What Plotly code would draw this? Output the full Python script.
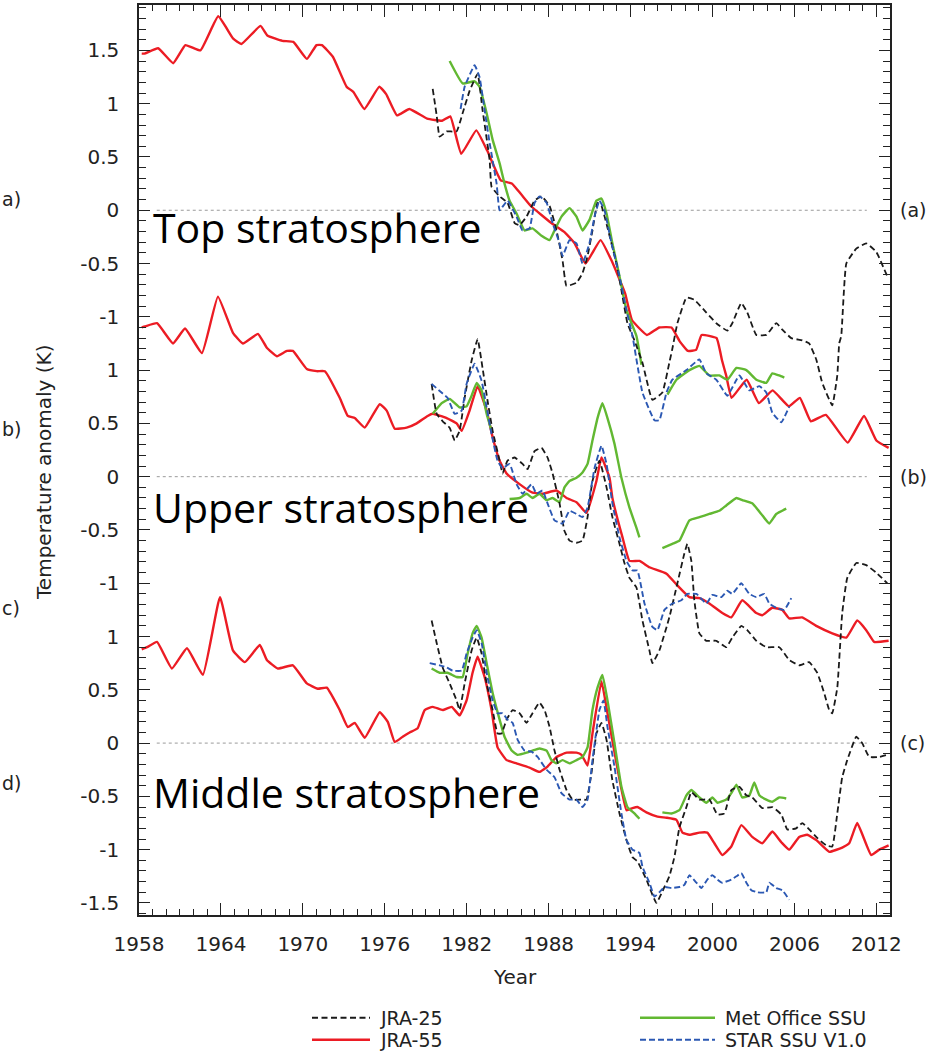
import plotly.graph_objects as go

# ---------------- data (anomalies in K, per stratospheric layer) ----------------
# (a) top stratosphere
a_jra55_yr = [1958.2, 1958.4, 1959.4, 1960.5, 1961.4, 1962.5, 1963.8, 1964.9, 1965.5, 1966.9,
              1967.4, 1968.5, 1969.3, 1970.3, 1971.0, 1971.4, 1972.2, 1973.2, 1973.7, 1974.5,
              1975.6, 1976.1, 1976.9, 1977.8, 1979.1, 1980.2, 1980.8, 1981.6, 1982.7, 1983.5,
              1984.5, 1985.3, 1986.7, 1988.2, 1989.2, 1989.9, 1990.7, 1991.8, 1992.6, 1993.6,
              1994.1, 1995.2, 1996.1, 1997.0, 1997.6, 1998.2, 1998.8, 1999.2, 2000.3, 2000.7,
              2001.0, 2001.4, 2002.5, 2003.4, 2004.4, 2005.6, 2006.4, 2007.2, 2008.3, 2009.9,
              2011.1, 2012.0, 2012.9]
a_jra55_k = [1.47, 1.47, 1.52, 1.38, 1.55, 1.50, 1.82, 1.61, 1.56, 1.73,
             1.64, 1.59, 1.58, 1.42, 1.55, 1.55, 1.44, 1.16, 1.11, 0.95,
             1.16, 1.09, 0.89, 0.95, 0.86, 0.84, 0.88, 0.53, 0.75, 0.56,
             0.28, 0.25, 0.04, -0.12, -0.21, -0.31, -0.50, -0.28, -0.47, -0.78,
             -1.03, -1.17, -1.10, -1.10, -1.23, -1.32, -1.31, -1.17, -1.20, -1.41,
             -1.55, -1.76, -1.59, -1.81, -1.69, -1.84, -1.76, -1.98, -1.92, -2.18,
             -1.93, -2.16, -2.23]

a_jra25_yr = [1979.51, 1979.80, 1980.02, 1980.53, 1981.26, 1981.70, 1982.21, 1982.80, 1983.16, 1983.68,
              1983.82, 1984.41, 1984.99, 1985.51, 1985.87, 1986.38, 1986.97, 1987.48, 1988.07, 1988.58,
              1989.02, 1989.31, 1990.04, 1990.48, 1990.85, 1991.21, 1991.58, 1991.87, 1992.46, 1992.97,
              1993.33, 1993.77, 1994.28, 1994.87, 1995.60, 1996.33, 1996.84, 1997.06, 1997.43, 1998.09,
              1998.67, 1999.55, 2000.28, 2001.09, 2001.45, 2002.11, 2002.55, 2003.21, 2003.94, 2004.67,
              2005.11, 2005.77, 2006.57, 2007.08, 2007.60, 2008.04, 2008.77, 2009.14, 2009.28, 2009.43,
              2009.80, 2010.53, 2011.26, 2011.99, 2012.80]
a_jra25_k = [1.14, 0.89, 0.69, 0.74, 0.74, 0.91, 1.12, 1.28, 0.94, 0.47,
             0.22, 0.13, 0.07, -0.12, -0.14, -0.06, 0.09, 0.13, 0.04, -0.19,
             -0.47, -0.71, -0.68, -0.59, -0.43, -0.19, 0.07, 0.04, -0.24, -0.50,
             -0.75, -1.06, -1.22, -1.43, -1.78, -1.71, -1.43, -1.30, -1.06, -0.82,
             -0.84, -0.96, -1.06, -1.13, -1.06, -0.87, -0.96, -1.17, -1.17, -1.06,
             -1.12, -1.20, -1.22, -1.25, -1.40, -1.62, -1.83, -1.55, -1.25, -1.18,
             -0.50, -0.36, -0.31, -0.39, -0.62]

a_star_yr = [1981.55, 1981.85, 1982.58, 1982.94, 1983.31, 1983.68, 1984.19, 1984.41, 1984.99, 1985.65,
             1986.09, 1986.60, 1986.97, 1987.33, 1987.85, 1988.29, 1988.80, 1989.02, 1989.53, 1990.04,
             1990.48, 1990.99, 1991.36, 1991.72, 1992.09, 1992.60, 1993.19, 1993.70, 1994.14, 1994.87,
             1995.75, 1996.11, 1996.63, 1997.06, 1998.09, 1999.04, 1999.55, 2000.28, 2001.09, 2001.97,
             2002.70, 2003.43, 2003.94, 2004.38, 2005.04, 2005.63]
a_star_k = [0.95, 1.16, 1.36, 1.25, 0.94, 0.63, 0.25, 0.00, 0.09, -0.06,
            -0.19, -0.17, 0.07, 0.13, 0.07, -0.12, -0.31, -0.43, -0.28, -0.31,
            -0.50, -0.31, -0.06, 0.09, 0.00, -0.31, -0.62, -0.94, -1.18, -1.71,
            -1.97, -1.97, -1.71, -1.59, -1.50, -1.40, -1.53, -1.59, -1.74, -1.55,
            -1.69, -1.65, -1.71, -1.90, -1.99, -1.84]

a_metoffice_yr = [1980.75, 1981.70, 1982.58, 1982.94, 1983.46, 1983.90, 1984.41, 1984.77, 1985.14, 1985.65,
                  1986.24, 1986.82, 1987.48, 1988.07, 1988.43, 1988.94, 1989.53, 1990.04, 1990.48, 1990.99,
                  1991.50, 1991.87, 1992.24, 1992.67, 1993.19, 1993.70, 1994.43, 1994.80, None,
                  1996.70, 1997.36, 1998.31, 1999.04, 1999.77, 2000.50, 2001.09, 2001.75, 2002.48, 2003.21,
                  2003.94, 2004.38, 2004.89, 2005.26]
a_metoffice_k = [1.40, 1.19, 1.21, 1.16, 0.91, 0.66, 0.44, 0.25, 0.09, -0.03,
                 -0.19, -0.17, -0.24, -0.28, -0.19, -0.06, 0.02, -0.06, -0.19, -0.09,
                 0.09, 0.11, -0.03, -0.31, -0.62, -0.94, -1.18, -1.45, None,
                 -1.73, -1.59, -1.50, -1.46, -1.55, -1.55, -1.59, -1.48, -1.50, -1.59,
                 -1.62, -1.53, -1.55, -1.57]

# (b) upper stratosphere
b_jra55_yr = [1958.2, 1958.44, 1959.32, 1960.49, 1961.37, 1962.61, 1963.78, 1964.88, 1965.61, 1966.71,
              1967.36, 1968.10, 1968.83, 1969.27, 1970.29, 1971.02, 1971.61, 1972.70, 1973.29, 1973.80,
              1974.53, 1975.63, 1976.14, 1976.73, 1977.60, 1978.34, 1979.14, 1979.51, 1980.53, 1981.26,
              1981.63, 1982.21, 1982.80, 1983.46, 1983.90, 1984.41, 1984.92, 1985.87, 1986.82, 1987.55,
              1988.58, 1989.31, 1990.04, 1990.77, 1991.50, 1991.87, 1992.46, 1992.67, 1993.41, 1993.92,
              1994.65, 1995.38, 1996.63, 1997.43, 1998.31, 1999.04, 1999.77, 2000.72, 2001.38, 2002.18,
              2003.21, 2003.65, 2004.38, 2005.11, 2005.62, 2006.57, 2007.60, 2008.77, 2009.80, 2010.60,
              2011.26, 2011.84, 2012.90]
b_jra55_k = [1.40, 1.41, 1.44, 1.25, 1.39, 1.16, 1.69, 1.35, 1.25, 1.34,
             1.21, 1.13, 1.18, 1.18, 1.01, 0.99, 0.99, 0.74, 0.57, 0.55,
             0.46, 0.68, 0.62, 0.45, 0.46, 0.50, 0.57, 0.59, 0.55, 0.50,
             0.43, 0.62, 0.85, 0.62, 0.37, 0.15, 0.03, -0.07, -0.15, -0.16,
             -0.13, -0.20, -0.24, -0.34, -0.04, 0.18, -0.01, -0.20, -0.57, -0.79,
             -0.79, -0.85, -0.91, -1.02, -1.13, -1.14, -1.19, -1.28, -1.32, -1.16,
             -1.28, -1.30, -1.23, -1.25, -1.33, -1.32, -1.40, -1.47, -1.51, -1.35,
             -1.44, -1.55, -1.54]

b_jra25_yr = [1979.43, 1979.80, 1980.24, 1980.75, 1981.12, 1981.48, 1981.85, 1982.36, 1982.80, 1983.16,
              1983.53, 1983.90, 1984.41, 1984.63, 1984.99, 1985.51, 1986.09, 1986.46, 1986.97, 1987.48,
              1987.92, 1988.29, 1988.80, 1989.16, 1989.53, 1990.04, 1990.48, 1990.85, 1991.21, 1991.72,
              1992.24, 1992.67, 1993.19, 1993.55, 1993.92, 1994.43, 1994.87, 1995.38, 1995.60, 1996.11,
              1996.84, 1997.43, 1997.94, 1998.16, 1998.45, 1998.67, 1999.04, 1999.55, 2000.28, 2001.01,
              2001.45, 2002.11, 2002.55, 2003.21, 2003.94, 2004.89, 2005.62, 2006.35, 2007.08, 2007.67,
              2008.18, 2008.55, 2008.77, 2009.14, 2009.50, 2009.87, 2010.53, 2011.26, 2011.99, 2012.80]
b_jra25_k = [0.87, 0.59, 0.52, 0.46, 0.34, 0.43, 0.74, 1.09, 1.29, 1.02,
             0.71, 0.43, 0.15, 0.03, 0.15, 0.18, 0.12, 0.07, 0.24, 0.27,
             0.18, 0.03, -0.25, -0.51, -0.60, -0.62, -0.60, -0.38, -0.04, 0.15,
             -0.10, -0.38, -0.63, -0.81, -0.95, -1.04, -1.35, -1.63, -1.75, -1.63,
             -1.32, -1.00, -0.72, -0.63, -0.79, -1.16, -1.47, -1.54, -1.54, -1.60,
             -1.51, -1.40, -1.44, -1.54, -1.60, -1.60, -1.72, -1.77, -1.74, -1.84,
             -2.03, -2.19, -2.22, -1.98, -1.28, -0.95, -0.81, -0.83, -0.90, -1.00]

b_star_yr = [1979.43, 1980.24, 1980.60, 1981.12, 1981.63, 1981.99, 1982.58, 1983.09, 1983.46, 1983.82,
             1984.26, 1984.63, 1985.14, 1985.65, 1986.09, 1986.75, 1987.11, 1987.55, 1987.92, 1988.43,
             1989.02, 1989.53, 1990.04, 1990.48, 1990.85, 1991.36, 1991.87, 1992.24, 1992.67, 1993.19,
             1993.70, 1994.14, 1994.50, 1995.02, 1995.60, 1995.97, 1996.48, 1997.06, 1997.72, 1998.16,
             1998.82, 1999.55, 1999.99, 2000.65, 2001.09, 2001.45, 2002.11, 2002.70, 2003.21, 2003.79,
             2004.16, 2004.67, 2005.26, 2005.77]
b_star_k = [0.87, 0.78, 0.74, 0.59, 0.62, 0.87, 1.06, 0.90, 0.65, 0.40,
            0.15, 0.08, 0.12, -0.07, -0.16, -0.07, -0.16, -0.13, -0.25, -0.41,
            -0.44, -0.32, -0.35, -0.38, -0.29, 0.08, 0.29, 0.12, -0.25, -0.57,
            -0.79, -0.88, -0.88, -1.19, -1.41, -1.44, -1.25, -1.19, -1.16, -1.10,
            -1.10, -1.19, -1.11, -1.13, -1.07, -1.10, -1.00, -1.10, -1.13, -1.10,
            -1.19, -1.23, -1.25, -1.14]

b_metoffice_yr = [1979.51, 1980.17, 1980.75, 1981.48, 1981.99, 1982.36, 1982.73, 1983.09, 1983.46, 1983.82, None,
                  1985.14, 1985.87, 1986.38, 1986.82, 1987.33, 1987.85, 1988.29, 1988.80, 1989.16, 1989.53,
                  1990.04, 1990.48, 1990.85, 1991.21, 1991.58, 1991.94, 1992.31, 1992.82, 1993.33, 1993.92,
                  1994.43, 1994.65, None,
                  1996.33, 1997.06, 1997.58, 1998.31, 1999.04, 1999.77, 2000.50, 2001.01, 2001.75, 2002.18,
                  2002.91, 2003.57, 2004.16, 2004.67, 2005.40]
b_metoffice_k = [0.59, 0.69, 0.73, 0.65, 0.66, 0.76, 0.88, 0.81, 0.59, 0.43, None,
                 -0.21, -0.20, -0.16, -0.20, -0.16, -0.22, -0.20, -0.24, -0.10, -0.04,
                 -0.01, 0.04, 0.12, 0.34, 0.55, 0.69, 0.55, 0.31, -0.01, -0.29,
                 -0.48, -0.57, None,
                 -0.67, -0.63, -0.60, -0.41, -0.38, -0.35, -0.32, -0.27, -0.20, -0.22,
                 -0.25, -0.35, -0.44, -0.35, -0.30]

# (c) middle stratosphere
c_jra55_yr = [1958.2, 1958.59, 1959.32, 1960.41, 1961.51, 1962.68, 1963.93, 1964.88, 1965.75, 1966.85,
              1967.36, 1968.17, 1969.27, 1970.29, 1971.09, 1971.75, 1972.70, 1973.29, 1973.80, 1974.53,
              1975.63, 1976.22, 1976.73, 1977.31, 1977.82, 1978.41, 1978.92, 1979.51, 1980.24, 1980.90,
              1981.48, 1981.99, 1982.43, 1982.80, 1983.31, 1983.82, 1984.26, 1984.92, 1985.65, 1986.60,
              1987.33, 1987.92, 1988.58, 1989.31, 1990.04, 1990.41, 1990.85, 1991.21, 1991.87, 1992.31,
              1992.97, 1993.70, 1994.14, 1994.50, 1995.16, 1995.97, 1996.63, 1997.36, 1997.80, 1998.31,
              1999.04, 1999.62, 2000.14, 2000.72, 2001.38, 2002.11, 2002.91, 2003.65, 2004.38, 2005.04,
              2005.62, 2006.35, 2006.94, 2007.60, 2008.55, 2009.50, 2010.01, 2010.60, 2011.62, 2012.21,
              2012.90]
c_jra55_k = [0.88, 0.90, 0.95, 0.70, 0.89, 0.64, 1.37, 0.87, 0.76, 0.92,
             0.78, 0.70, 0.73, 0.56, 0.51, 0.52, 0.31, 0.15, 0.19, 0.05,
             0.29, 0.20, 0.01, 0.06, 0.10, 0.14, 0.31, 0.34, 0.31, 0.34,
             0.26, 0.40, 0.66, 0.81, 0.62, 0.31, -0.04, -0.16, -0.19, -0.23,
             -0.27, -0.22, -0.13, -0.09, -0.09, -0.11, -0.21, 0.09, 0.58, 0.28,
             -0.19, -0.63, -0.61, -0.60, -0.65, -0.69, -0.70, -0.72, -0.84, -0.86,
             -0.84, -0.84, -0.94, -1.05, -0.97, -0.77, -0.88, -0.94, -0.83, -0.93,
             -1.00, -0.88, -0.86, -0.91, -1.02, -0.98, -0.94, -0.75, -1.05, -1.00,
             -0.96]

c_jra25_yr = [1979.43, 1979.80, 1980.24, 1980.75, 1981.26, 1981.48, 1981.85, 1982.36, 1982.73, 1983.09,
              1983.46, 1983.90, 1984.26, 1984.55, 1984.92, 1985.36, 1985.87, 1986.38, 1986.82, 1987.33,
              1987.70, 1988.07, 1988.43, 1988.80, 1989.31, 1989.75, 1990.41, 1990.77, 1991.14, 1991.50,
              1991.87, 1992.24, 1992.67, 1993.19, 1993.70, 1994.14, 1994.50, 1995.16, 1995.89, 1996.48,
              1996.84, 1997.21, 1997.58, 1998.09, 1998.45, 1999.04, 1999.77, 2000.36, 2000.87, 2001.38,
              2001.97, 2002.48, 2002.91, 2003.65, 2004.38, 2005.04, 2005.48, 2006.13, 2006.57, 2007.08,
              2007.67, 2008.33, 2008.77, 2009.14, 2009.50, 2009.87, 2010.53, 2010.96, 2011.48, 2012.21,
              2012.80]
c_jra25_k = [1.15, 0.94, 0.71, 0.56, 0.40, 0.31, 0.56, 0.87, 0.99, 0.84,
             0.56, 0.31, 0.09, 0.09, 0.22, 0.31, 0.28, 0.19, 0.28, 0.38,
             0.31, 0.15, -0.07, -0.25, -0.44, -0.53, -0.53, -0.53, -0.28, 0.09,
             0.19, 0.03, -0.35, -0.66, -0.91, -1.07, -1.11, -1.28, -1.50, -1.35,
             -1.25, -1.07, -0.79, -0.60, -0.46, -0.53, -0.53, -0.67, -0.66, -0.44,
             -0.41, -0.49, -0.51, -0.61, -0.60, -0.67, -0.81, -0.80, -0.75, -0.81,
             -0.89, -0.96, -0.97, -0.66, -0.32, -0.16, 0.06, 0.00, -0.13, -0.13,
             -0.11]

c_star_yr = [1979.29, 1980.02, 1980.53, 1980.97, 1981.63, 1981.99, 1982.43, 1982.73, 1983.09, 1983.46,
             1983.90, 1984.26, 1984.63, 1984.99, 1985.36, 1985.73, 1986.24, 1986.75, 1987.19, 1987.85,
             1988.43, 1988.94, 1989.53, 1990.04, 1990.48, 1990.85, 1991.21, 1991.72, 1992.02, 1992.31,
             1992.82, 1993.33, 1993.70, 1994.14, 1994.65, 1994.87, 1995.38, 1995.75, 1996.11, 1996.48,
             1996.99, 1997.58, 1997.94, 1998.31, 1998.82, 1999.19, 1999.62, 1999.99, 2000.36, 2000.72,
             2001.38, 2001.75, 2002.11, 2002.48, 2002.84, 2003.28, 2003.94, 2004.16, 2004.67, 2005.11,
             2005.62]
c_star_k = [0.75, 0.73, 0.71, 0.68, 0.68, 0.84, 0.99, 1.06, 0.94, 0.66,
            0.40, 0.28, 0.28, 0.22, 0.19, 0.03, -0.07, -0.08, -0.13, -0.25,
            -0.32, -0.47, -0.53, -0.53, -0.60, -0.53, -0.16, 0.31, 0.40, 0.15,
            -0.22, -0.66, -0.91, -1.00, -1.03, -1.16, -1.31, -1.44, -1.40, -1.35,
            -1.36, -1.35, -1.33, -1.24, -1.31, -1.36, -1.28, -1.24, -1.28, -1.31,
            -1.28, -1.25, -1.22, -1.31, -1.38, -1.40, -1.40, -1.31, -1.36, -1.38,
            -1.47]

c_metoffice_yr = [1979.43, 1980.02, 1980.60, 1981.26, 1981.70, 1982.07, 1982.43, 1982.73, 1983.09, 1983.46,
                  1983.90, 1984.41, 1984.77, 1985.29, 1985.73, 1986.38, 1986.82, 1987.33, 1987.85, 1988.21,
                  1988.58, 1989.02, 1989.53, 1990.04, 1990.48, 1990.85, 1991.21, 1991.58, 1991.94, 1992.31,
                  1992.82, 1993.33, 1993.77, 1994.28, 1994.65, None,
                  1996.33, 1996.99, 1997.58, 1998.09, 1998.45, 1999.04, 1999.55, 1999.99, 2000.36, 2001.01,
                  2001.38, 2001.75, 2002.18, 2002.70, 2003.06, 2003.43, 2003.94, 2004.38, 2004.89, 2005.40]
c_metoffice_k = [0.70, 0.66, 0.66, 0.62, 0.62, 0.84, 1.03, 1.10, 0.99, 0.75,
                 0.47, 0.22, 0.06, -0.07, -0.11, -0.09, -0.07, -0.05, -0.07, -0.16,
                 -0.19, -0.16, -0.19, -0.16, -0.13, -0.04, 0.31, 0.52, 0.64, 0.40,
                 0.00, -0.41, -0.60, -0.66, -0.71, None,
                 -0.65, -0.66, -0.63, -0.49, -0.44, -0.51, -0.56, -0.51, -0.56, -0.53,
                 -0.47, -0.39, -0.51, -0.49, -0.37, -0.49, -0.53, -0.55, -0.51, -0.52]

# labels of the stacked anomaly axis, top to bottom (one per 0.5 K step)
y_tick_labels = ["1.5", "1", "0.5", "0", "-0.5", "-1",
                 "1", "0.5", "0", "-0.5", "-1",
                 "1", "0.5", "0", "-0.5", "-1", "-1.5"]

panel_titles = ["Top stratosphere", "Upper stratosphere", "Middle stratosphere"]
dataset_names = ["JRA-25", "JRA-55", "Met Office SSU", "STAR SSU V1.0"]

# ---------------- figure ----------------
W, H = 933, 1053
M_L, M_R, M_T, M_B = 139, 43, 3, 138
PLOT_W = W - M_L - M_R
PLOT_H = H - M_T - M_B
FONT = "DejaVu Sans"
TITLE_FONT = "Open Sans"
panel_shift = [0.0, -2.5, -5.0]          # vertical offset of each panel on the shared axis
title_drop = [0.158, 0.289, 0.457]       # how far below each zero line the panel name sits


def paper_x(px):
    return (px - M_L) / PLOT_W


def paper_y(py):
    return (H - M_B - py) / PLOT_H


def _fmt(v):
    return ("%g" % v).replace("-", "\u2212")


# map the stacked-axis values to the per-panel labels
y_label_alias = {_fmt(1.5 - 0.5 * i): lab for i, lab in enumerate(y_tick_labels)}

styles = {
    "JRA-25": dict(color="#1a1a1a", width=1.8, dash="6px,3.5px"),
    "JRA-55": dict(color="#ec1c24", width=2.4),
    "Met Office SSU": dict(color="#62b832", width=2.4),
    "STAR SSU V1.0": dict(color="#2b58b3", width=1.9, dash="6px,3px"),
}

panels = [
    {"JRA-55": (a_jra55_yr, a_jra55_k), "Met Office SSU": (a_metoffice_yr, a_metoffice_k),
     "JRA-25": (a_jra25_yr, a_jra25_k), "STAR SSU V1.0": (a_star_yr, a_star_k)},
    {"JRA-55": (b_jra55_yr, b_jra55_k), "Met Office SSU": (b_metoffice_yr, b_metoffice_k),
     "JRA-25": (b_jra25_yr, b_jra25_k), "STAR SSU V1.0": (b_star_yr, b_star_k)},
    {"JRA-55": (c_jra55_yr, c_jra55_k), "Met Office SSU": (c_metoffice_yr, c_metoffice_k),
     "JRA-25": (c_jra25_yr, c_jra25_k), "STAR SSU V1.0": (c_star_yr, c_star_k)},
]

fig = go.Figure()
for p, series in enumerate(panels):
    for name, (yrs, vals) in series.items():
        shifted = [None if v is None else v + panel_shift[p] for v in vals]
        fig.add_trace(go.Scatter(
            x=yrs, y=shifted, mode="lines", name=name,
            line=dict(shape="spline", smoothing=0.35, **styles[name]), connectgaps=False,
            showlegend=False, hoverinfo="skip",
        ))

# dotted zero line of each panel
for s in panel_shift:
    fig.add_shape(type="line", x0=1959.3, x1=2011.3, y0=s, y1=s, xref="x", yref="y",
                  line=dict(color="#9a9a9a", width=1, dash="dot"), layer="below")

# panel names inside the plot
for s, drop, title in zip(panel_shift, title_drop, panel_titles):
    fig.add_annotation(x=1958.85, y=s - drop, xref="x", yref="y", text=title,
                       showarrow=False, xanchor="left", yanchor="middle",
                       font=dict(family=TITLE_FONT, size=41, color="black"))

# panel letters at both sides
txt = dict(family=FONT, size=19, color="#222")
for lab, ypix in [("a)", 197), ("b)", 428), ("c)", 607), ("d)", 783)]:
    fig.add_annotation(x=0, y=paper_y(ypix), xref="paper", yref="paper", text=lab,
                       showarrow=False, xanchor="left", yanchor="middle", font=txt,
                       xshift=-M_L)
for lab, s in [("(a)", 0.0), ("(b)", -2.5), ("(c)", -5.0)]:
    fig.add_annotation(x=1, y=s, xref="paper", yref="y", text=lab, xshift=8,
                       showarrow=False, xanchor="left", yanchor="middle", font=txt)

fig.add_annotation(x=0, y=paper_y(472), xref="paper", yref="paper",
                   text="Temperature anomaly (K)", textangle=-90, showarrow=False,
                   xshift=-109, font=dict(family=FONT, size=20, color="#222"))
fig.add_annotation(x=0.5, y=paper_y(977), xref="paper", yref="paper", text="Year",
                   showarrow=False, yanchor="middle", font=dict(family=FONT, size=20, color="#222"))

# key below the plot: two columns, two rows
key_slots = {"JRA-25": (312, 370, 1018), "JRA-55": (312, 370, 1040),
             "Met Office SSU": (640, 715, 1018), "STAR SSU V1.0": (640, 715, 1040)}
for name in dataset_names:
    x0, x1, yk = key_slots[name]
    fig.add_shape(type="line", xref="paper", yref="paper",
                  x0=paper_x(x0), x1=paper_x(x1), y0=paper_y(yk), y1=paper_y(yk),
                  line=styles[name])
    fig.add_annotation(x=paper_x(x1 + 8), y=paper_y(yk), xref="paper", yref="paper",
                       text=name, showarrow=False, xanchor="left", yanchor="middle",
                       font=dict(family=FONT, size=19, color="#222"))

axis_common = dict(showline=True, linecolor="#222", linewidth=1.5, mirror="allticks",
                   ticks="inside", tickcolor="#222", showgrid=False, zeroline=False,
                   tickfont=dict(family=FONT, size=20, color="#222"))

fig.update_xaxes(range=[1958, 2013], tickmode="linear", tick0=1958, dtick=6,
                 ticklen=12, tickwidth=1.2, ticklabelstandoff=10,
                 minor=dict(dtick=1, tick0=1958, ticklen=6, ticks="inside", tickcolor="#222",
                            tickwidth=1, showgrid=False),
                 **axis_common)
fig.update_yaxes(range=[-6.613, 1.926], tickmode="linear", tick0=0, dtick=0.5,
                 labelalias=y_label_alias,
                 ticklen=11, tickwidth=1.2, ticklabelstandoff=14,
                 minor=dict(dtick=0.1, tick0=0, ticklen=7, ticks="inside", tickcolor="#222",
                            tickwidth=1, showgrid=False),
                 **axis_common)

fig.update_layout(
    width=W, height=H,
    margin=dict(l=M_L, r=M_R, t=M_T, b=M_B),
    paper_bgcolor="white", plot_bgcolor="white",
    font=dict(family=FONT, color="#222"),
    showlegend=False,
)

fig.write_html("out.html")
